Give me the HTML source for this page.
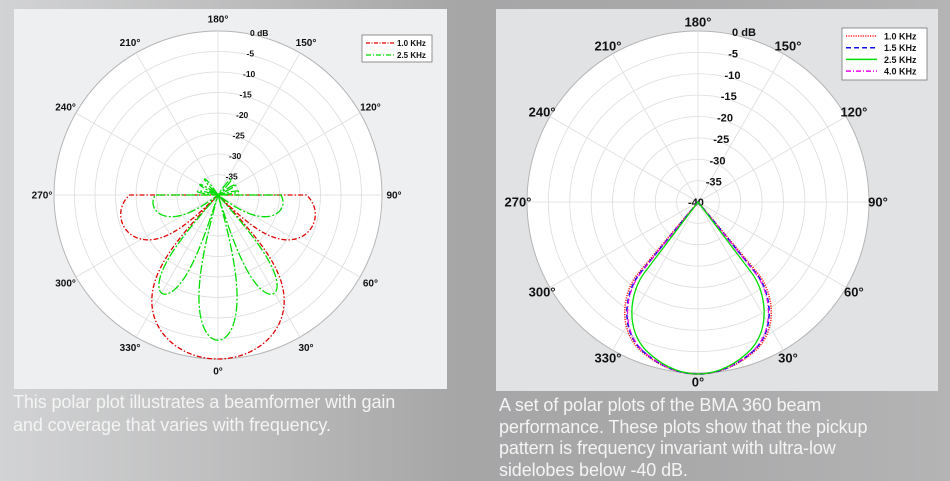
<!DOCTYPE html>
<html><head><meta charset="utf-8"><style>
html,body{margin:0;padding:0;width:950px;height:481px;overflow:hidden}
body{background:linear-gradient(to right,#d2d3d4 0%,#bdbdbe 25%,#a6a6a7 48%,#a8a8a9 70%,#b4b4b5 100%);position:relative;font-family:"Liberation Sans",sans-serif}
.cap{position:absolute;color:#f4f4f4;font-size:18px;line-height:23px;white-space:nowrap}
svg{position:absolute;left:0;top:0}
</style></head><body>
<svg width="950" height="481" viewBox="0 0 950 481" id="s">
<rect x="14" y="9" width="433" height="380" fill="#eeeff1"/>
<rect x="496" y="9" width="442" height="382" fill="#e1e2e4"/>
<g id="g1"></g><g id="g2"></g>
</svg>
<div class="cap" style="left:13px;top:391px;letter-spacing:-0.1px">This polar plot illustrates a beamformer with gain<br>and coverage that varies with frequency.</div>
<div class="cap" style="left:499px;top:395px;line-height:21.5px;letter-spacing:-0.1px">A set of polar plots of the BMA 360 beam<br>performance. These plots show that the pickup<br>pattern is frequency invariant with ultra-low<br>sidelobes below -40 dB.</div>
<script>
var NS="http://www.w3.org/2000/svg";
function el(p,t,a,txt){var e=document.createElementNS(NS,t);for(var k in a)e.setAttribute(k,a[k]);if(txt!=null)e.textContent=txt;p.appendChild(e);return e;}
function grid(g,cx,cy,R,fs,ld,rx){
 el(g,"circle",{cx:cx,cy:cy,r:R,fill:"#fff",stroke:"#b5b5b5","stroke-width":1});
 for(var i=1;i<8;i++)el(g,"circle",{cx:cx,cy:cy,r:R*i/8,fill:"none",stroke:"#dcdcdc","stroke-width":0.8});
 for(var a=0;a<180;a+=30){var t=a*Math.PI/180;el(g,"line",{x1:cx+R*Math.sin(t),y1:cy+R*Math.cos(t),x2:cx-R*Math.sin(t),y2:cy-R*Math.cos(t),stroke:"#dcdcdc","stroke-width":0.8});}
 for(var a=0;a<360;a+=30){var t=a*Math.PI/180;var x=cx+ld*Math.sin(t),y=cy+ld*Math.cos(t)+fs*0.35;
  el(g,"text",{x:x,y:y,"font-size":fs,"font-weight":"bold","text-anchor":"middle",fill:"#111"},a+"°");}
 var labs=["0 dB","-5","-10","-15","-20","-25","-30","-35"];
 for(var i=0;i<8;i++){var r=R*(8-i)/8;el(g,"text",{x:cx+rx*(8-i)/8+4,y:cy-r+5,"font-size":fs*0.85,"font-weight":"bold","text-anchor":"start",fill:"#111"},labs[i]);}
}
var g1=document.getElementById("g1"),g2=document.getElementById("g2");
grid(g1,218,195,164,10,176,28);
grid(g2,698,202,171,13,180,30);
el(g2,"text",{x:688,y:206,"font-size":11,"font-weight":"bold",fill:"#111"},"-40");
function lobe(g,cx,cy,R,f,col,dash,w){
 var d="";for(var u=-180;u<=180;u+=0.25){var a=f(Math.abs(u));var db=a>0?20*Math.log10(a):-100;var r=Math.max(0,(db+40)/40)*R;var t=u*Math.PI/180;
 d+=(d?"L":"M")+(cx+r*Math.sin(t)).toFixed(2)+","+(cy+r*Math.cos(t)).toFixed(2);}
 el(g,"path",{d:d,fill:"none",stroke:col,"stroke-width":w,"stroke-dasharray":dash});
}
function red(u){if(u<44)return Math.pow(Math.cos(Math.PI/2*u/44),1.25);if(u<=90)return 0.165*Math.sin(Math.PI*(u-44)/62);return 0;}
function grn(u){if(u<17){var c=Math.cos(Math.PI/2*u/17);return 0.59*c*c;}
 if(u<42)return 0.24*Math.pow(Math.sin(Math.PI*(u-17)/25),1.3);
 if(u<=90)return 0.063*Math.sin(Math.PI*(u-50)/64)*(u>50?1:0);
 if(u<=150)return 0.018*Math.abs(Math.sin(Math.PI*(u-90)/20));return 0;}
lobe(g1,218,195,164,red,"#e00000","5 2 1.5 2",1.3);
lobe(g1,218,195,164,grn,"#00dd00","9 2 2 2",1.3);
el(g1,"rect",{x:362,y:35,width:70,height:27,fill:"#fff",stroke:"#777","stroke-width":0.8});
el(g1,"line",{x1:366,y1:43,x2:395,y2:43,stroke:"#e00000","stroke-width":1.3,"stroke-dasharray":"4 1.5 1 1.5"});
el(g1,"line",{x1:366,y1:55,x2:395,y2:55,stroke:"#00dd00","stroke-width":1.3,"stroke-dasharray":"5 2 1 2"});
el(g1,"text",{x:397,y:46,"font-size":8,"font-weight":"bold",fill:"#111"},"1.0 KHz");
el(g1,"text",{x:397,y:58,"font-size":8,"font-weight":"bold",fill:"#111"},"2.5 KHz");
function drop(s,ws,col,dash,w){
 var cx=698,cy=202;function P(x,y){return (cx+(x-cx)*ws).toFixed(1)+","+(cy+(y-cy)*s).toFixed(1);}
 function Q(x,y){return (cx-(x-cx)*ws).toFixed(1)+","+(cy+(y-cy)*s).toFixed(1);}
 var d="M"+P(698,202)+" L"+P(641,272)+" C"+P(624,292)+" "+P(619,332)+" "+P(645,353)+" C"+P(665,370)+" "+P(685,374)+" "+P(698,374)+
 " C"+Q(685,374)+" "+Q(665,370)+" "+Q(645,353)+" C"+Q(619,332)+" "+Q(624,292)+" "+Q(641,272)+" Z";
 el(g2,"path",{d:d,fill:"none",stroke:col,"stroke-width":w,"stroke-dasharray":dash});
}
drop(1,1.03,"#ff2020","1.2 1.2",1.6);
drop(1,1.0,"#1010ee","5 3",1.6);
drop(1,0.99,"#ee00ee","5 2 1 2",1.2);
drop(1,0.93,"#00dd00","",1.3);
el(g2,"rect",{x:842,y:28,width:85,height:52,fill:"#fff",stroke:"#777","stroke-width":0.8});
var L=[["#ff2020","1.2 1.2","1.0 KHz"],["#1010ee","5 3","1.5 KHz"],["#00dd00","","2.5 KHz"],["#ee00ee","5 2 1 2","4.0 KHz"]];
for(var i=0;i<4;i++){var y=36+i*11.7;el(g2,"line",{x1:846,y1:y,x2:877,y2:y,stroke:L[i][0],"stroke-width":1.5,"stroke-dasharray":L[i][1]});
 el(g2,"text",{x:884,y:y+3.5,"font-size":9,"font-weight":"bold",fill:"#111"},L[i][2]);}
</script>
</body></html>
